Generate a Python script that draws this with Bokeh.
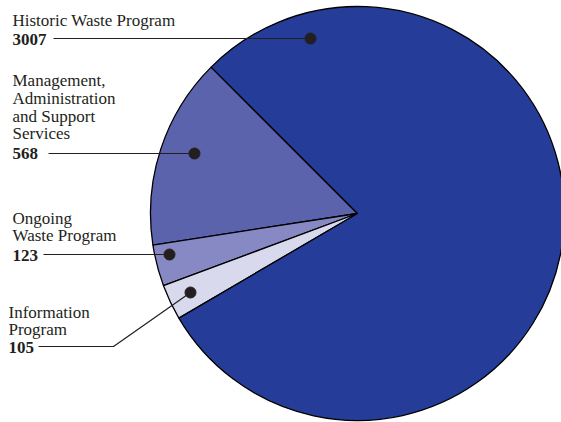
import numpy as np
from bokeh.plotting import figure
from bokeh.models import Range1d
from bokeh.core.properties import value
from bokeh.embed import file_html
from bokeh.resources import INLINE

# ---- data (slices in drawing order, anticlockwise from the upper-left edge) ----
categories = ["Management, Administration and Support Services",
              "Ongoing Waste Program", "Information Program",
              "Historic Waste Program"]
values = [568, 123, 105, 3007]
colors = ["#5A63AC", "#8689C3", "#D9D9ED", "#253D98"]
label_lines = [["Management,", "Administration", "and Support", "Services"],
               ["Ongoing", "Waste Program"],
               ["Information", "Program"],
               ["Historic Waste Program"]]
value_labels = [str(v) for v in values]

# ---- layout (screen px, y down) ----
W, H = 561, 422
CX, CY, R = 357, 213, 207
START_DEG = 135.0
label_x = [12, 12, 8, 12]
label_baselines = [[80, 98, 116, 133], [218, 235], [312, 329], [20]]
number_baseline = [153, 255, 347, 39]
line_start_x = [48, 43, 38, 53]
leader_y = [153, 254, 346, 38]
dot_pos = [(194, 153), (169, 254), (190, 292), (310, 38)]
elbow_x = [None, None, 113, None]

ink = "#231F20"
FONT = value("Liberation Serif")
FS = "17px"


def fy(y):
    return H - y


p = figure(width=W, height=H, x_range=Range1d(0, W), y_range=Range1d(0, H),
           output_backend="svg", toolbar_location=None,
           x_axis_type=None, y_axis_type=None, min_border=0)
p.grid.visible = False
p.outline_line_color = None
p.background_fill_color = "white"
p.border_fill_color = "white"

vals = np.array(values, dtype=float)
fr = vals / vals.sum()
ends = np.radians(START_DEG) + 2 * np.pi * np.cumsum(fr)
starts = ends - 2 * np.pi * fr

p.wedge(x=[CX] * len(vals), y=[fy(CY)] * len(vals), radius=R,
        start_angle=list(starts), end_angle=list(ends), direction="anticlock",
        fill_color=colors, line_color="black", line_width=1.3)

for i in range(len(values)):
    bl = label_baselines[i]
    p.text(x=[label_x[i]] * len(bl), y=[fy(b) for b in bl], text=label_lines[i],
           text_font=FONT, text_font_size=FS, text_color=ink,
           text_baseline="alphabetic", text_align="left")
    p.text(x=[label_x[i]], y=[fy(number_baseline[i])], text=[value_labels[i]],
           text_font=FONT, text_font_size=FS, text_color=ink,
           text_font_style="bold", text_baseline="alphabetic", text_align="left")
    dx, dy = dot_pos[i]
    if elbow_x[i] is None:
        xs = [line_start_x[i], dx]
        ys = [fy(leader_y[i]), fy(dy)]
    else:
        xs = [line_start_x[i], elbow_x[i], dx]
        ys = [fy(leader_y[i]), fy(leader_y[i]), fy(dy)]
    p.line(xs, ys, line_color=ink, line_width=1.2)

p.scatter(x=[d[0] for d in dot_pos], y=[fy(d[1]) for d in dot_pos],
          size=11, fill_color=ink, line_color=ink)

open("out.html", "w").write(file_html(p, INLINE))
